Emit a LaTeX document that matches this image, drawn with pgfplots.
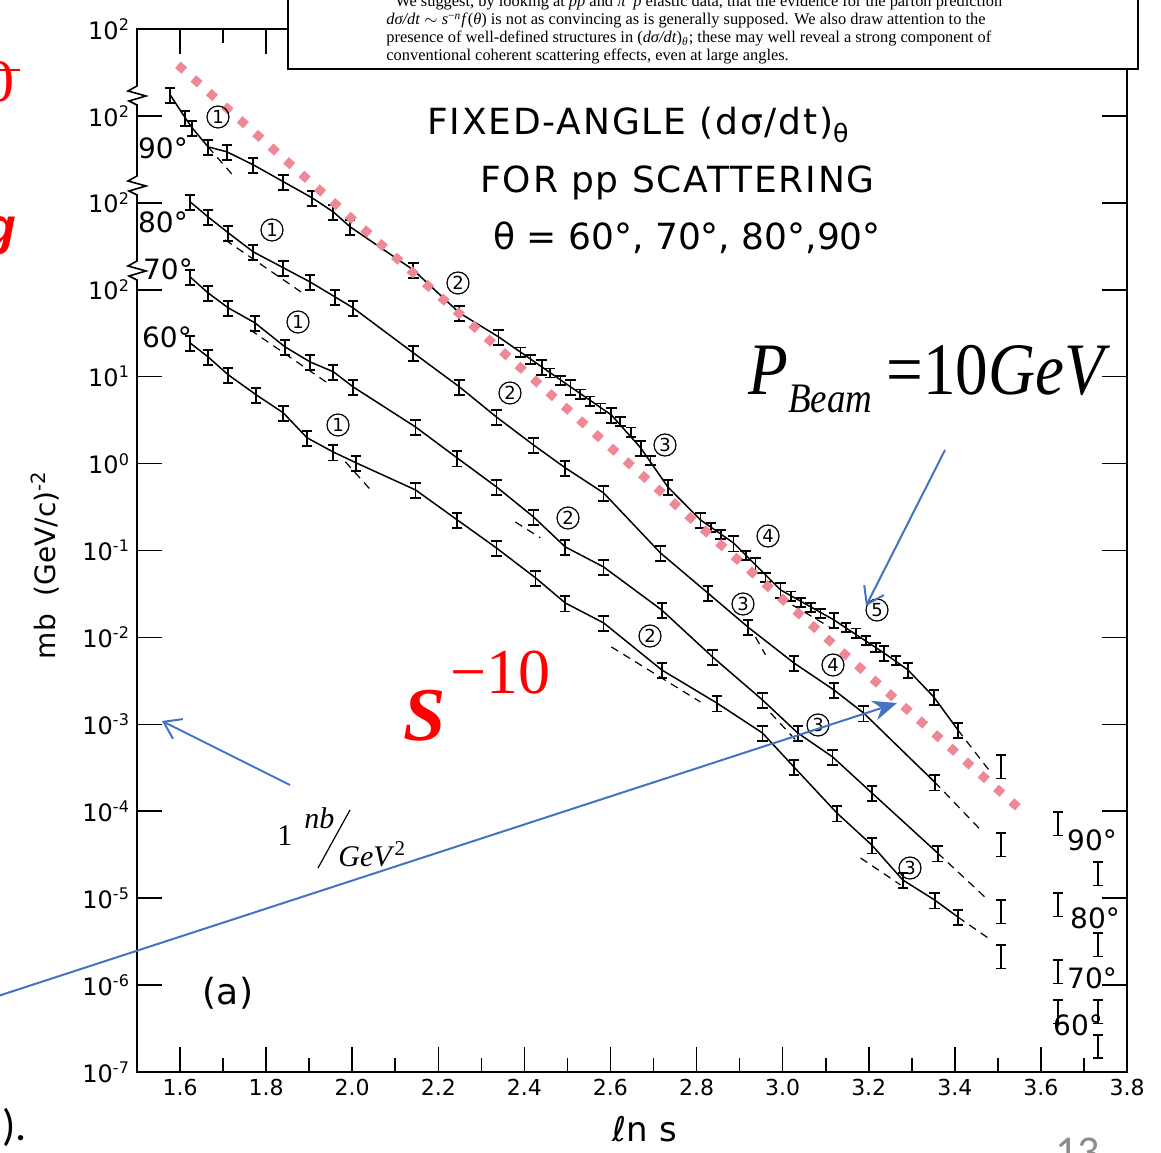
\documentclass[border=0pt]{standalone}
\usepackage{fontspec}
\setmainfont{Liberation Serif}
\newfontfamily\lett{DejaVu Sans}
\newfontfamily\lettw{DejaVu Sans}[LetterSpace=5]
\newfontfamily\calib{Carlito}
\newfontfamily\arialf{Liberation Sans}
\usepackage{graphicx}
\usepackage{pgfplots}
\pgfplotsset{compat=1.18}
\usetikzlibrary{arrows.meta}
\definecolor{pinkdot}{RGB}{238,136,148}
\definecolor{pblue}{RGB}{68,114,196}
\pgfplotsset{
  eb/.style={error bars/y dir=both, error bars/y fixed relative=#1,
    error bars/error mark=|,
    error bars/error bar style={draw=black, line width=0.9pt},
    error bars/error mark options={draw=black, line width=0.9pt, mark size=2.6pt}},
  curve/.style={black, line width=0.75pt, mark=none},
  model/.style={black, line width=0.6pt, mark=none, dash pattern=on 4pt off 3pt},
  pts/.style={draw=none, mark=none, forget plot},
}
\begin{document}
\begin{tikzpicture}
\useasboundingbox (-68.5pt,-40pt) rectangle (512pt,536pt);
\clip (-68.5pt,-40pt) rectangle (512pt,536pt);
\begin{axis}[
  at={(0,0)}, anchor=south west, scale only axis,
  width=495pt, height=521.5pt,
  xmin=1.5, xmax=3.8, ymode=log, ymin=1e-7, ymax=1e5,
  xtick={1.6,1.8,2.0,2.2,2.4,2.6,2.8,3.0,3.2,3.4,3.6,3.8},
  xticklabels={1.6,1.8,2.0,2.2,2.4,2.6,2.8,3.0,3.2,3.4,3.6,3.8},
  minor xtick={1.7,1.9,2.1,2.3,2.5,2.7,2.9,3.1,3.3,3.5,3.7},
  ytick={1e-7,1e-6,1e-5,1e-4,1e-3,1e-2,1e-1,1,1e1,1e2,1e3,1e4,1e5},
  yticklabels={10\textsuperscript{-7},10\textsuperscript{-6},10\textsuperscript{-5},10\textsuperscript{-4},10\textsuperscript{-3},10\textsuperscript{-2},10\textsuperscript{-1},10\textsuperscript{0},10\textsuperscript{1},10\textsuperscript{2},10\textsuperscript{2},10\textsuperscript{2},10\textsuperscript{2}},
  yminorticks=false,
  tick pos=both, tick align=inside,
  major tick length=12.5pt, minor tick length=7pt,
  every tick/.style={black, line width=0.8pt},
  axis line style={line width=0.9pt},
  xticklabel style={font=\lett\fontsize{11}{11}\selectfont},
  yticklabel style={font=\lett\fontsize{12}{12}\selectfont},
  clip=false,
]
% 90 degrees
\addplot[curve, eb=0.2] coordinates {(1.577,1.75e4) (1.612,9.5e3) (1.628,7.3e3) (1.665,4.41e3) (1.709,3.86e3) (1.770,2.74e3) (1.840,1.75e3) (1.907,1.14e3) (1.956,787) (1.995,530) (2.142,169) (2.249,54.2) (2.340,28.7) (2.440,13.0) (2.507,7.64) (2.602,3.63) (2.670,1.52) (2.733,0.540) (2.809,0.225) (2.886,0.122) (2.937,0.0682) (2.995,0.0352) (3.119,0.0159) (3.235,6.64e-3) (3.291,4.23e-3) (3.351,2.07e-3) (3.407,8.63e-4)};
\addplot[pts, eb=0.12] coordinates {(2.391,19.3) (2.414,16.0) (2.460,11.1) (2.484,9.18) (2.530,6.34) (2.553,5.27) (2.577,4.38) (2.623,3.10) (2.647,2.32) (2.693,1.10) (2.833,0.187) (2.856,0.155) (2.914,0.0889) (2.960,0.0497) (3.019,0.0301) (3.042,0.0256) (3.065,0.0224) (3.088,0.0191) (3.147,0.0132) (3.170,0.0113) (3.193,9.35e-3) (3.216,7.78e-3) (3.263,5.51e-3)};
\addplot[model] coordinates {(3.407,8.63e-4) (3.479,2.99e-4)};
\addplot[model] coordinates {(1.665,4.41e3) (1.728,1.94e3)};
\addplot[model] coordinates {(2.995,0.0285) (3.112,0.0129)};
% 80 degrees
\addplot[curve, eb=0.2] coordinates {(1.623,1.03e3) (1.665,690) (1.712,452) (1.770,273) (1.840,179) (1.902,123) (1.960,82.8) (2.002,61.9) (2.142,18.8) (2.249,7.64) (2.335,3.44) (2.421,1.64) (2.495,0.893) (2.584,0.460) (2.716,0.0938) (2.826,0.0325) (2.919,0.0132) (3.026,5.09e-3) (3.119,2.49e-3) (3.188,1.35e-3) (3.353,2.17e-4)};
\addplot[model] coordinates {(3.353,2.17e-4) (3.460,6.10e-5)};
\addplot[model] coordinates {(1.705,375) (1.891,87.3)};
% 70 degrees
\addplot[curve, eb=0.2] coordinates {(1.623,141) (1.665,92.0) (1.712,61.9) (1.774,41.6) (1.844,22.0) (1.902,14.8) (1.956,11.4) (2.002,7.64) (2.147,2.64) (2.244,1.16) (2.335,0.540) (2.421,0.244) (2.495,0.110) (2.584,0.0647) (2.719,0.0207) (2.837,5.97e-3) (2.953,1.91e-3) (3.035,7.96e-4) (3.116,4.22e-4) (3.207,1.63e-4) (3.360,3.31e-5)};
\addplot[model] coordinates {(3.360,3.31e-5) (3.470,1.03e-5)};
\addplot[model] coordinates {(1.763,34.6) (1.949,8.05)};
\addplot[model] coordinates {(2.379,0.213) (2.437,0.140)};
\addplot[model] coordinates {(2.937,0.0101) (2.960,6.30e-3)};
% 60 degrees
\addplot[curve, eb=0.2] coordinates {(1.623,24.5) (1.665,16.9) (1.712,10.5) (1.777,6.18) (1.840,3.83) (1.895,1.98) (1.956,1.36) (2.009,1.02) (2.147,0.498) (2.244,0.225) (2.335,0.107) (2.426,0.0484) (2.495,0.0249) (2.584,0.0147) (2.719,4.23e-3) (2.847,1.76e-3) (2.953,7.96e-4) (3.026,3.24e-4) (3.126,9.55e-5) (3.207,4.09e-5) (3.279,1.62e-5) (3.353,9.53e-6) (3.407,6.08e-6)};
\addplot[model] coordinates {(3.407,6.08e-6) (3.484,3.30e-6)};
\addplot[model] coordinates {(1.984,1.05) (2.047,0.472)};
\addplot[model] coordinates {(2.602,7.78e-3) (2.809,1.81e-3)};
\addplot[model] coordinates {(2.972,1.35e-3) (3.030,6.61e-4)};
\addplot[model] coordinates {(3.181,2.90e-5) (3.274,1.42e-5)};
% high-energy points
\addplot[pts, eb=0.3] coordinates {(3.507,3.41e-4) (3.507,4.31e-5) (3.507,7.31e-6) (3.507,2.22e-6) (3.640,7.53e-5) (3.733,2.0e-5) (3.640,8.81e-6) (3.733,3.05e-6) (3.640,1.49e-6) (3.640,5.16e-7) (3.733,5.16e-7) (3.733,2.05e-7)};
% s^-10 line
\addplot[pinkdot, line width=4.3pt, dash pattern=on 4.3pt off 6pt, mark=none] coordinates {(1.595,3.87e4) (3.553,1.04e-4)};
\end{axis}
\begin{scope}[x=0.5pt, y=-0.5pt, shift={(-68.5pt,536pt)}]
% axis breaks
\foreach \c in {95,185,270} {
  \draw[white, line width=2.5pt] (137,\c-9) -- (137,\c+9);
  \draw[black, line width=0.8pt] (137,\c-12) -- (137,\c-9) -- (128,\c-4) -- (146,\c+1) -- (129,\c+6) -- (137,\c+10) -- (137,\c+12);
}
% abstract box
\draw[fill=white, line width=1.1pt] (288,-20) rectangle (1138,69);
\begin{scope}[every node/.style={anchor=base west, inner sep=0, font=\fontsize{8.2}{9}\selectfont}]
\node at (395,7) {We suggest, by looking at \textit{pp} and \textit{π}\textsuperscript{+}\textit{p} elastic data, that the evidence for the parton prediction};
\node at (386,25) {\textit{dσ/dt} $\sim$ \textit{s}\textsuperscript{−\textit{n}}\textit{f}(\textit{θ}) is not as convincing as is generally supposed. We also draw attention to the};
\node at (386,43) {presence of well-defined structures in (\textit{dσ/dt})\textsubscript{\textit{θ}}; these may well reveal a strong component of};
\node at (386,61) {conventional coherent scattering effects, even at large angles.};
\end{scope}
% title
\begin{scope}[every node/.style={anchor=base west, inner sep=0, font=\lettw\fontsize{18}{18}\selectfont}]
\node at (427,135) {FIXED-ANGLE (dσ/dt)\textsubscript{θ}};
\node at (480,193) {FOR pp SCATTERING};
\node[font=\lett\fontsize{18}{18}\selectfont] at (493,250) {θ = 60°, 70°, 80°,90°};
\end{scope}
% angle labels
\begin{scope}[every node/.style={inner sep=0, font=\lett\fontsize{14}{14}\selectfont}]
\node at (163,148) {90°};
\node at (163,222) {80°};
\node at (168,269) {70°};
\node at (167,337) {60°};
\node at (1092,840) {90°};
\node at (1095,918) {80°};
\node at (1092,978) {70°};
\node at (1078,1025) {60°};
\node[font=\lett\fontsize{18}{18}\selectfont] at (228,993) {(a)};
\end{scope}
% circled numbers
\begin{scope}[every node/.style={circle, draw, line width=0.6pt, inner sep=0pt, minimum size=11pt, font=\lett\fontsize{9}{9}\selectfont}]
\node at (218,117) {1}; \node at (458,283) {2}; \node at (665,445) {3}; \node at (768,536) {4}; \node at (877,610) {5};
\node at (272,230) {1}; \node at (510,393) {2}; \node at (743,604) {3}; \node at (833,665) {4};
\node at (298,322) {1}; \node at (568,518) {2}; \node at (818,725) {3};
\node at (338,425) {1}; \node at (650,636) {2}; \node at (910,868) {3};
\end{scope}
% axis labels
\node[rotate=90, inner sep=0, font=\lett\fontsize{14}{14}\selectfont] at (45,565) {mb\ \ (GeV/c)\textsuperscript{-2}};
\node[anchor=base, inner sep=0, font=\lett\fontsize{17}{17}\selectfont] at (645,1141) {ℓn s};
% annotations
\node[anchor=base west, inner sep=0] at (748,395) {\scalebox{0.88}[1]{\fontsize{37}{37}\selectfont\textit{P}\raisebox{-9pt}{\fontsize{21}{21}\selectfont\textit{Beam}}\hspace{0.22em}=10\textit{GeV}}};
\node[anchor=base west, inner sep=0, text=red] at (403,740) {\fontsize{38}{38}\selectfont\bfseries\itshape S};
\node[anchor=base west, inner sep=0, text=red] at (450,693) {\fontsize{32}{32}\selectfont −10};
\node[anchor=base west, inner sep=0] at (277,845) {\fontsize{15}{15}\selectfont 1};
\node[anchor=base west, inner sep=0] at (304,828) {\fontsize{15}{15}\selectfont\textit{nb}};
\draw[line width=0.6pt] (318,868) -- (350,810);
\node[anchor=base west, inner sep=0] at (338,866) {\fontsize{15}{15}\selectfont\textit{GeV}\textsuperscript{2}};
\draw[pblue, line width=1pt, -{Straight Barb[length=8pt,width=11pt]}] (290,785) -- (162,721);
\draw[pblue, line width=1pt, -{Straight Barb[length=8pt,width=11pt]}] (945,450) -- (866,606);
\draw[pblue, line width=1pt, -{Stealth[length=12pt,width=10pt]}] (-5,997) -- (897,703);
% cut-off slide text
\draw[red, line width=1pt] (0,70) -- (20,70);
\node[anchor=base east, inner sep=0, text=red] at (15,102) {\fontsize{30}{30}\selectfont 0};
\node[anchor=base east, inner sep=0, text=red] at (17,245) {\arialf\fontsize{26}{26}\selectfont\bfseries\itshape g};
\node[anchor=base west, inner sep=0] at (2,1140) {\calib\fontsize{22}{22}\selectfont ).};
\node[anchor=north west, inner sep=0, text=black!45] at (1055,1138) {\calib\fontsize{22}{22}\selectfont 13};
\end{scope}
\end{tikzpicture}
\end{document}
